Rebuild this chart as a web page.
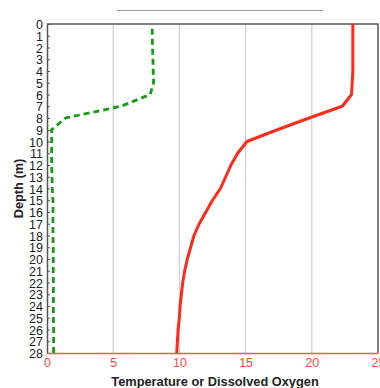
<!DOCTYPE html>
<html>
<head>
<meta charset="utf-8">
<script src="https://cdn.jsdelivr.net/npm/d3@7"></script>
<style>
  body { margin: 0; background: #fff; }
  svg { display: block; font-family: 'Liberation Sans', Arial, sans-serif; }
</style>
</head>
<body>
<div id="root"></div>
<script>
const width = 380;
const height = 388;
const margin = { top: 24, right: 2, bottom: 35, left: 47 };

// Temperature profile (red), one value per metre
const tempDepths = [0, 1, 2, 3, 4, 5, 6, 7, 8, 9, 10, 11, 12, 13, 14, 15, 16, 17, 18, 19, 20, 21, 22, 23, 24, 25, 26, 27, 28];
const tempValues = [23.1, 23.1, 23.1, 23.1, 23.1, 23.05, 23.0, 22.3, 19.8, 17.4, 15.1, 14.4, 13.9, 13.5, 13.1, 12.5, 12.0, 11.5, 11.1, 10.85, 10.6, 10.4, 10.25, 10.15, 10.05, 10.0, 9.9, 9.85, 9.8];

// Dissolved oxygen profile (green, dashed)
const doDepths = [0.4, 1, 2, 3, 4, 5, 6, 7, 8, 9, 10, 11, 12, 13, 14, 15, 16, 17, 18, 19, 20, 21, 22, 23, 24, 25, 26, 27, 28];
const doValues = [7.95, 7.95, 7.97, 8.0, 8.02, 8.05, 7.8, 5.6, 1.4, 0.35, 0.35, 0.35, 0.35, 0.38, 0.4, 0.45, 0.45, 0.45, 0.45, 0.47, 0.47, 0.47, 0.48, 0.48, 0.48, 0.48, 0.5, 0.5, 0.5];

const xTicks = [0, 5, 10, 15, 20, 25];
const yTicks = d3.range(0, 29);

const svg = d3
  .select('#root')
  .append('svg')
  .attr('width', width)
  .attr('height', height);

// Scales

const xScale = d3
  .scaleLinear()
  .domain([0, 25])
  .range([margin.left, width - margin.right]);

const yScale = d3
  .scaleLinear()
  .domain([0, 28])
  .range([margin.top, height - margin.bottom]);

// Empty title placeholder line

svg
  .append('line')
  .attr('x1', 117)
  .attr('x2', 323)
  .attr('y1', 10.5)
  .attr('y2', 10.5)
  .attr('stroke', '#9a9a9a')
  .attr('stroke-width', 1);

// Gridlines

svg
  .append('g')
  .selectAll('line')
  .data(xTicks.slice(1, -1))
  .enter()
  .append('line')
  .attr('x1', (d) => xScale(d))
  .attr('x2', (d) => xScale(d))
  .attr('y1', margin.top)
  .attr('y2', height - margin.bottom)
  .attr('stroke', '#d0d0d0')
  .attr('stroke-width', 1.2);

// Frame (top and right)

svg
  .append('path')
  .attr(
    'd',
    `M${margin.left},${margin.top}H${width - margin.right}V${height - margin.bottom}`
  )
  .attr('fill', 'none')
  .attr('stroke', '#555')
  .attr('stroke-width', 1.5);

// Axes

const yAxis = d3
  .axisLeft(yScale)
  .tickValues(yTicks)
  .tickFormat(d3.format('d'))
  .tickSizeInner(-3)
  .tickSizeOuter(0)
  .tickPadding(4);

const yG = svg
  .append('g')
  .attr('transform', `translate(${margin.left}, 0)`)
  .call(yAxis);

yG.select('.domain').attr('stroke', '#555').attr('stroke-width', 1.5);
yG.selectAll('.tick line').attr('stroke', '#555');
yG.selectAll('.tick text')
  .attr('fill', '#222')
  .style('font-size', '12.5px')
  .attr('dy', '0.36em');

const xAxis = d3
  .axisBottom(xScale)
  .tickValues(xTicks)
  .tickSize(0)
  .tickPadding(5)
  .tickFormat(d3.format('d'));

const xG = svg
  .append('g')
  .attr('transform', `translate(0, ${height - margin.bottom})`)
  .call(xAxis);

xG.select('.domain').attr('stroke', '#ff5a50').attr('stroke-width', 1.3);
xG.selectAll('.tick text').attr('fill', '#ff4a40').style('font-size', '12.5px');

// Axis titles

svg
  .append('text')
  .attr('x', 215)
  .attr('y', 386)
  .attr('text-anchor', 'middle')
  .style('font-weight', 'bold')
  .style('font-size', '12.8px')
  .attr('fill', '#222')
  .text('Temperature or Dissolved Oxygen');

svg
  .append('text')
  .attr('transform', `translate(23, ${(margin.top + height - margin.bottom) / 2}) rotate(-90)`)
  .attr('text-anchor', 'middle')
  .style('font-weight', 'bold')
  .style('font-size', '12.8px')
  .attr('fill', '#222')
  .text('Depth (m)');

// Profiles

const line = d3
  .line()
  .x((d) => xScale(d[0]))
  .y((d) => yScale(d[1]));

svg
  .append('path')
  .datum(doValues.map((v, i) => [v, doDepths[i]]))
  .attr('d', line)
  .attr('fill', 'none')
  .attr('stroke', '#12a012')
  .attr('stroke-width', 2.8)
  .attr('stroke-dasharray', '6,4');

svg
  .append('path')
  .datum(tempValues.map((v, i) => [v, tempDepths[i]]))
  .attr('d', line)
  .attr('fill', 'none')
  .attr('stroke', '#ff2a1a')
  .attr('stroke-width', 3)
  .attr('stroke-linejoin', 'round');
</script>
</body>
</html>
